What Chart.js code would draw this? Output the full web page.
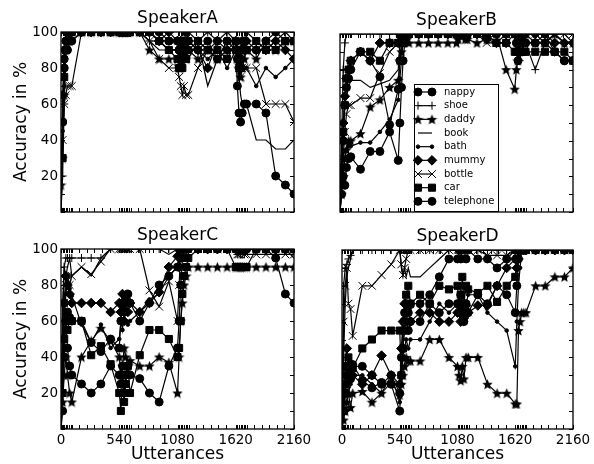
<!DOCTYPE html>
<html>
<head>
<meta charset="utf-8">
<script src="https://cdn.jsdelivr.net/npm/chart.js@4.4.1/dist/chart.umd.min.js"></script>
<style>
  html, body { margin: 0; padding: 0; background: #fff; }
  #wrap { position: relative; width: 594px; height: 464px; }
  #wrap canvas { position: absolute; left: 0; top: 0; }
</style>
</head>
<body>
<div id="wrap">
  <canvas id="panelA" width="594" height="464"></canvas>
  <canvas id="panelB" width="594" height="464"></canvas>
  <canvas id="panelC" width="594" height="464"></canvas>
  <canvas id="panelD" width="594" height="464"></canvas>
</div>
<script>
// evaluation points (utterances), 4 sessions of 540
const utterances = [
  0, 15, 30, 45, 60, 80, 100, 190, 280, 370, 460,
  540, 555, 570, 585, 600, 620, 640, 730, 820, 910, 1000,
  1080, 1095, 1110, 1125, 1140, 1160, 1180, 1270, 1360, 1450, 1540,
  1620, 1635, 1650, 1665, 1680, 1700, 1720, 1810, 1900, 1990, 2080,
  2160
];
const words = ['nappy', 'shoe', 'daddy', 'book', 'bath', 'mummy', 'bottle', 'car', 'telephone'];

// tick marks / labels
const xTickLabels = [0, 540, 1080, 1620, 2160];
const yTickLabels = [20, 40, 60, 80, 100];
const yTicks = [0, 10, 20, 30, 40, 50, 60, 70, 80, 90, 100];
const sessionStarts = [0, 540, 1080, 1620];
const denseTickOffsets = [0, 15, 30, 45, 60, 75, 90, 105];
const sparseTickOffsets = [170, 240, 310, 380, 450];

// SpeakerA
const nappyA     = [0,50,85,95,100,100,100,100,100,100,100, 100,100,100,100,100,100,100,100,100,95,95, 95,90,85,95,90,95,90,95,90,95,95, 90,70,55,50,55,60,60,60,55,20,15, 10];
const shoeA      = [0,20,60,90,95,100,100,100,100,100,100, 100,100,100,100,100,100,100,100,95,95,90, 90,85,80,85,90,95,100,95,100,95,100, 95,90,85,90,95,90,100,95,90,95,100, 95];
const daddyA     = [15,30,65,90,95,95,100,100,100,100,100, 100,100,100,100,100,100,100,100,90,85,85, 85,80,80,85,90,85,90,85,90,85,90, 90,85,80,75,80,85,90,85,95,90,95, 95];
const bookA      = [0,40,80,95,100,100,100,100,100,100,100, 100,100,100,100,100,100,100,100,95,90,90, 90,85,90,80,85,90,85,95,70,85,95, 95,85,75,65,60,60,60,40,40,35,35, 40];
const bathA      = [0,45,70,90,95,95,95,100,100,100,100, 100,100,100,100,100,100,100,100,100,95,90, 90,85,90,95,90,85,90,90,85,90,80, 90,80,75,80,85,80,80,70,80,75,80, 85];
const mummyA     = [0,65,90,100,100,100,100,100,100,100,100, 100,100,100,100,100,100,100,100,100,95,100, 95,90,95,90,85,90,95,90,80,95,90, 95,90,85,90,95,90,95,90,90,95,90, 85];
const bottleA    = [0,40,60,65,70,70,70,100,100,100,100, 100,100,100,100,100,100,100,100,95,85,80, 80,75,70,65,70,65,65,80,90,85,90, 90,85,80,75,80,80,80,80,60,60,60, 50];
const carA       = [0,30,75,90,95,100,100,100,100,100,100, 100,100,100,100,100,100,100,100,100,95,90, 85,80,85,80,90,85,95,95,90,90,85, 95,90,85,80,90,95,90,95,90,90,95, 95];
const telephoneA = [0,50,80,90,90,95,95,100,100,100,100, 100,100,100,100,100,100,100,100,100,100,95, 95,90,95,90,95,100,95,90,95,85,95, 95,85,80,85,90,95,90,90,95,100,95, 95];

// SpeakerB
const nappyB     = [0,10,20,15,25,30,31,24,34,34,45, 29,50,70,85,95,100,100,100,100,100,100, 100,100,100,100,100,100,100,100,100,100,100, 100,95,90,95,100,95,95,95,100,90,85, 85];
const shoeB      = [0,40,80,95,100,100,100,100,100,100,100, 100,100,100,100,100,100,100,100,100,100,100, 100,100,100,100,100,100,100,100,100,100,100, 100,95,90,85,90,95,95,80,95,100,95, 95];
const daddyB     = [0,10,20,30,35,40,40,44,59,63,70, 74,85,90,95,97,97,95,95,95,95,95, 95,97,100,100,100,97,97,95,97,100,80, 69,80,85,90,95,100,100,95,95,100,95, 95];
const bookB      = [0,30,50,60,65,70,74,74,70,72,74, 80,95,100,100,100,100,100,100,100,100,100, 100,100,100,100,100,100,100,100,100,100,100, 100,100,100,100,100,100,100,100,100,100,100, 95];
const bathB      = [0,15,25,30,35,37,37,39,39,45,52, 63,75,85,95,100,100,100,100,100,100,100, 100,100,100,100,100,100,100,100,100,100,100, 100,95,100,95,100,95,95,95,95,100,95, 95];
const mummyB     = [0,25,50,65,75,80,85,90,85,95,95, 95,100,100,100,100,100,100,100,100,100,100, 100,100,100,100,100,100,100,100,97,95,95, 100,100,95,100,100,95,100,100,100,95,95, 95];
const bottleB    = [0,15,30,45,55,60,60,64,64,78,90, 95,100,100,100,100,100,100,100,100,100,100, 100,100,100,100,100,100,100,100,95,95,100, 100,100,95,100,100,100,100,100,95,100,100, 100];
const carB       = [0,20,45,60,75,80,85,90,90,85,95, 95,100,100,100,100,100,100,100,100,100,100, 100,100,100,100,100,100,100,100,100,95,95, 90,90,90,90,90,90,90,90,90,90,90, 85];
const telephoneB = [0,20,40,60,70,75,80,90,85,76,49, 69,85,95,100,100,100,100,100,100,100,100, 100,100,100,100,100,100,100,100,100,100,100, 100,90,85,90,95,95,95,95,95,90,85, 85];

// SpeakerC
const nappyC     = [0,10,40,60,45,35,30,25,20,25,35, 30,25,35,20,30,35,30,28,20,15,35, 45,60,80,95,100,100,100,100,100,100,100, 100,100,100,100,100,100,100,100,100,95,75, 70];
const shoeC      = [0,60,90,95,95,95,95,95,95,95,100, 100,100,100,100,100,100,100,100,100,100,100, 100,100,100,100,100,100,100,100,100,100,100, 100,97,97,97,97,97,100,100,100,100,100, 100];
const daddyC     = [0,15,30,40,30,20,15,40,49,56,49, 40,30,35,45,40,35,38,35,35,40,37, 20,40,60,70,80,85,90,90,90,90,90, 90,90,90,90,90,90,90,90,90,90,90, 90];
const bookC      = [0,70,90,85,90,95,85,90,85,95,100, 100,100,100,100,100,100,100,100,100,100,97, 100,100,100,100,100,100,100,100,100,100,100, 100,100,100,100,100,100,100,100,100,100,100, 95];
const bathC      = [0,30,60,75,80,78,74,58,48,58,45, 50,60,55,65,60,58,60,65,72,75,85, 90,95,100,100,100,100,100,100,100,100,100, 100,100,100,100,100,100,100,100,100,100,100, 100];
const mummyC     = [0,40,70,85,80,75,70,70,70,70,65, 70,65,75,60,70,65,70,65,70,76,90, 96,90,100,100,100,100,100,100,100,100,100, 100,100,100,100,100,100,100,100,100,100,100, 100];
const bottleC    = [0,40,70,80,85,80,85,90,86,93,100, 100,100,100,100,100,100,100,100,77,68,82, 60,80,100,100,100,100,100,100,100,100,100, 100,97,97,100,100,97,97,97,97,97,97, 97];
const carC       = [0,20,50,60,55,60,60,60,41,46,36, 20,10,30,15,25,35,20,41,55,55,50, 40,45,60,75,85,90,95,100,100,100,100, 90,90,90,90,90,90,90,100,100,100,100, 100];
const telephoneC = [0,40,70,60,65,62,60,60,48,43,50, 45,60,70,65,72,75,70,60,70,80,85, 90,100,100,100,100,100,100,100,100,100,100, 100,100,100,100,100,100,100,100,100,100,100, 100];

// SpeakerD
const nappyD     = [0,10,20,35,30,28,36,27,23,26,25, 10,30,45,55,60,55,60,60,70,65,70, 70,65,75,70,60,70,65,75,70,80,75, 65,80,95,100,100,100,100,100,100,100,100, 100];
const shoeD      = [0,80,90,92,95,97,100,100,100,100,100, 100,100,100,100,100,100,100,100,100,100,100, 100,100,100,100,100,100,100,100,100,100,100, 100,100,100,100,100,100,100,100,100,100,100, 100];
const daddyD     = [0,5,10,15,20,12,20,21,15,20,26, 19,25,30,35,40,38,38,38,50,50,40, 35,30,27,35,28,40,40,40,25,20,20, 14,14,55,60,65,65,65,80,80,85,85, 90];
const bookD      = [0,40,70,85,90,95,100,100,100,100,100, 100,90,85,90,85,90,85,85,90,95,100, 100,100,100,100,100,100,100,100,100,100,100, 100,100,100,100,100,100,100,100,100,100,100, 100];
const bathD      = [0,15,25,30,20,25,30,30,25,20,30, 15,30,40,45,50,45,50,50,60,70,65, 70,65,60,70,65,70,75,75,65,60,55, 35,60,80,90,100,100,100,100,100,100,100, 100];
const mummyD     = [0,20,35,45,30,35,30,25,30,41,30, 25,45,60,70,65,68,60,65,65,60,60, 65,70,60,68,62,69,65,69,69,80,90, 95,90,95,100,100,100,100,100,100,100,100, 100];
const bottleD    = [0,60,80,90,70,67,52,80,80,86,92, 100,92,86,90,95,100,100,100,100,100,100, 100,100,100,100,100,100,100,100,97,97,97, 100,100,100,100,100,100,100,100,100,100,100, 100];
const carD       = [0,10,20,25,40,35,34,45,50,55,55, 55,30,45,60,75,80,70,75,70,80,78, 80,70,75,85,70,80,78,76,80,71,80, 85,95,100,100,100,100,100,100,100,100,100, 100];
const telephoneD = [0,10,20,30,35,33,35,35,30,25,30, 20,40,55,65,70,65,70,70,75,85,95, 95,100,95,100,100,95,100,95,95,90,95, 100,100,100,100,100,100,100,100,100,100,100, 100];

// tick positions along x (dense around session starts)
const xTicks = [];
sessionStarts.forEach(s => {
  denseTickOffsets.forEach(o => xTicks.push(s + o));
  sparseTickOffsets.forEach(o => xTicks.push(s + o));
});
xTicks.push(2160);

// filled star marker for "daddy"
function makeStar(size) {
  const c = document.createElement('canvas');
  c.width = c.height = size;
  const g = c.getContext('2d');
  const cx = size / 2, R = size / 2, r = R * 0.45;
  g.beginPath();
  for (let k = 0; k < 10; k++) {
    const ang = -Math.PI / 2 + k * Math.PI / 5;
    const rr = k % 2 ? r : R;
    g.lineTo(cx + rr * Math.cos(ang), cx + 0.5 + rr * Math.sin(ang));
  }
  g.closePath();
  g.fillStyle = '#000';
  g.fill();
  return c;
}
const starImg = makeStar(11);

const markers = {
  nappy:     { pointStyle: 'circle', radius: 4 },
  shoe:      { pointStyle: 'cross', radius: 4 },
  daddy:     { pointStyle: starImg, radius: 5 },
  book:      { pointStyle: 'circle', radius: 0 },
  bath:      { pointStyle: 'circle', radius: 1.8 },
  mummy:     { pointStyle: 'rectRot', radius: 4.8 },
  bottle:    { pointStyle: 'crossRot', radius: 5.5 },
  car:       { pointStyle: 'rect', radius: 5 },
  telephone: { pointStyle: 'circle', radius: 4 }
};

Chart.defaults.font.family = '"DejaVu Sans"';
Chart.defaults.color = '#000';

// frame, inward ticks, legend, titles
const panelDeco = {
  id: 'panelDeco',
  afterDatasetsDraw(chart, args, o) {
    const { ctx, chartArea: a, scales: { x, y } } = chart;
    ctx.save();
    ctx.strokeStyle = '#000';
    ctx.lineWidth = 1;
    ctx.beginPath();
    x.ticks.forEach(t => {
      const px = Math.round(x.getPixelForValue(t.value)) + 0.5;
      ctx.moveTo(px, a.bottom); ctx.lineTo(px, a.bottom - 4);
      ctx.moveTo(px, a.top); ctx.lineTo(px, a.top + 4);
    });
    y.ticks.forEach(t => {
      const py = Math.round(y.getPixelForValue(t.value)) + 0.5;
      ctx.moveTo(a.left, py); ctx.lineTo(a.left + 4, py);
      ctx.moveTo(a.right, py); ctx.lineTo(a.right - 4, py);
    });
    ctx.stroke();
    ctx.lineWidth = 1.3;
    ctx.strokeRect(a.left, a.top, a.right - a.left, a.bottom - a.top);

    if (o.legend) {
      const L = o.legend;
      ctx.fillStyle = '#fff';
      ctx.fillRect(L.x, L.y, L.w, L.h);
      ctx.lineWidth = 1;
      ctx.strokeStyle = '#000';
      ctx.strokeRect(L.x + 0.5, L.y + 0.5, L.w, L.h);
      ctx.font = '10px "DejaVu Sans"';
      ctx.textAlign = 'left';
      ctx.textBaseline = 'middle';
      words.forEach((w, i) => {
        const cy = L.y + 8 + i * L.row;
        ctx.strokeStyle = '#000';
        ctx.fillStyle = '#000';
        ctx.lineWidth = 1.2;
        ctx.beginPath();
        ctx.moveTo(L.x + 4, cy); ctx.lineTo(L.x + 18, cy);
        ctx.stroke();
        const m = markers[w];
        if (m.radius > 0) {
          ctx.lineWidth = 1;
          [L.x + 4, L.x + 18].forEach(px => {
            Chart.helpers.drawPoint(ctx, { pointStyle: m.pointStyle, radius: m.radius, rotation: 0, borderWidth: 1 }, px, cy);
          });
        }
        ctx.fillText(w, L.x + 30, cy);
      });
    }
    ctx.restore();
  },
  afterDraw(chart, args, o) {
    const { ctx, chartArea: a } = chart;
    ctx.save();
    ctx.fillStyle = '#000';
    ctx.font = '17px "DejaVu Sans"';
    ctx.textAlign = 'center';
    ctx.textBaseline = 'alphabetic';
    ctx.fillText(o.title, (a.left + a.right) / 2, a.top - 9);
    if (o.xLabel) ctx.fillText('Utterances', (a.left + a.right) / 2, 459);
    if (o.yLabel) {
      ctx.translate(26, (a.top + a.bottom) / 2);
      ctx.rotate(-Math.PI / 2);
      ctx.fillText('Accuracy in %', 0, 0);
    }
    ctx.restore();
  }
};

function makeDatasets(values) {
  return words.map((w, i) => ({
    label: w,
    data: utterances.map((u, j) => ({ x: u, y: values[i][j] })),
    borderColor: '#000',
    borderWidth: 1.2,
    backgroundColor: '#000',
    pointBackgroundColor: '#000',
    pointBorderColor: '#000',
    pointBorderWidth: 1,
    pointStyle: markers[w].pointStyle,
    pointRadius: markers[w].radius,
    pointHoverRadius: markers[w].radius,
    tension: 0,
    fill: false
  }));
}

// the y axis box fills everything left of the frame, the x axis box everything below it
function buildPanel(id, values, box, deco, showX, showY) {
  const axisW = box.left;
  const axisH = 464 - box.bottom;
  new Chart(document.getElementById(id), {
    type: 'line',
    data: { datasets: makeDatasets(values) },
    options: {
      responsive: false,
      animation: false,
      events: [],
      layout: { padding: { left: 0, top: box.top, right: 594 - box.right, bottom: 0 } },
      scales: {
        x: {
          type: 'linear', min: 0, max: 2160,
          grid: { display: false, drawTicks: false },
          border: { display: false },
          afterBuildTicks: s => { s.ticks = xTicks.map(v => ({ value: v })); },
          afterFit: s => { s.height = axisH; s.paddingLeft = 0; s.paddingRight = 0; },
          ticks: {
            display: showX, autoSkip: false, maxRotation: 0, minRotation: 0, padding: 3,
            font: { size: 13.5 }, color: '#000',
            callback: v => xTickLabels.includes(v) ? String(v) : ''
          }
        },
        y: {
          type: 'linear', min: 0, max: 100,
          grid: { display: false, drawTicks: false },
          border: { display: false },
          afterBuildTicks: s => { s.ticks = yTicks.map(v => ({ value: v })); },
          afterFit: s => { s.width = axisW; s.paddingTop = 0; s.paddingBottom = 0; },
          ticks: {
            display: showY, autoSkip: false, padding: 3,
            font: { size: 13.5 }, color: '#000',
            callback: v => yTickLabels.includes(v) ? String(v) : ''
          }
        }
      },
      plugins: {
        legend: { display: false },
        title: { display: false },
        tooltip: { enabled: false },
        panelDeco: deco
      }
    },
    plugins: [panelDeco]
  });
}

buildPanel('panelA',
  [nappyA, shoeA, daddyA, bookA, bathA, mummyA, bottleA, carA, telephoneA],
  { left: 61, top: 32, right: 294, bottom: 212 },
  { title: 'SpeakerA', yLabel: true, xLabel: false }, false, true);

buildPanel('panelB',
  [nappyB, shoeB, daddyB, bookB, bathB, mummyB, bottleB, carB, telephoneB],
  { left: 340, top: 34, right: 573, bottom: 212 },
  { title: 'SpeakerB', yLabel: false, xLabel: false,
    legend: { x: 414, y: 84, w: 84, h: 127, row: 13.67 } }, false, false);

buildPanel('panelC',
  [nappyC, shoeC, daddyC, bookC, bathC, mummyC, bottleC, carC, telephoneC],
  { left: 61, top: 249, right: 294, bottom: 429 },
  { title: 'SpeakerC', yLabel: true, xLabel: true }, true, true);

buildPanel('panelD',
  [nappyD, shoeD, daddyD, bookD, bathD, mummyD, bottleD, carD, telephoneD],
  { left: 342, top: 250, right: 573, bottom: 429 },
  { title: 'SpeakerD', yLabel: false, xLabel: true }, true, false);
</script>
</body>
</html>
